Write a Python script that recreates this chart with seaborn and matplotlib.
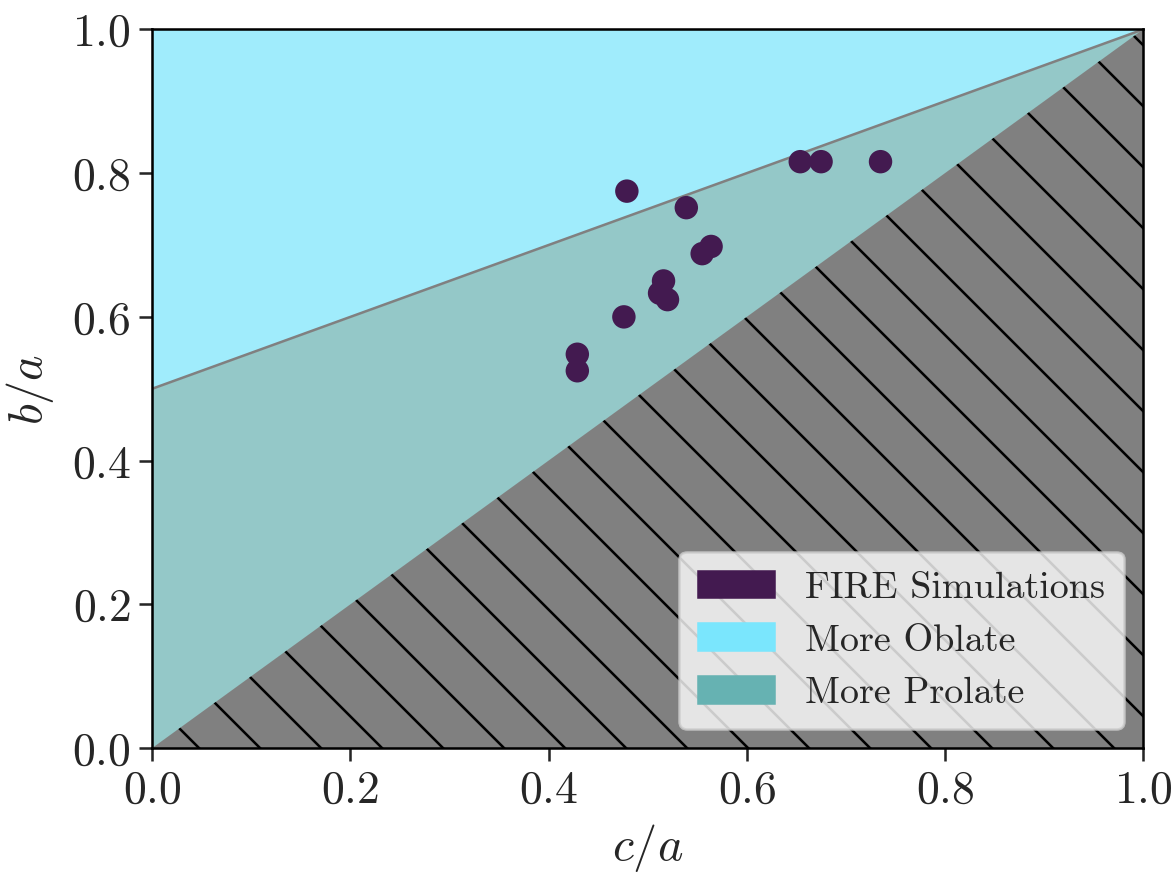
import matplotlib
matplotlib.use("Agg")
import matplotlib.pyplot as plt
import matplotlib.patches as mpatches
import seaborn as sns
import pandas as pd

# Data
c_over_a = [0.429, 0.429, 0.476, 0.479, 0.539, 0.516, 0.512, 0.520, 0.555, 0.564, 0.654, 0.675, 0.735]
b_over_a = [0.548, 0.525, 0.600, 0.775, 0.752, 0.650, 0.633, 0.624, 0.688, 0.698, 0.816, 0.816, 0.816]

edge_x = [0.0, 1.0]
oblate_boundary = [0.5, 1.0]   # b/a = 0.5 + 0.5 c/a
diagonal = [0.0, 1.0]           # b/a = c/a
top = [1.0, 1.0]
bottom = [0.0, 0.0]

legend_labels = ["FIRE Simulations", "More Oblate", "More Prolate"]

sns.set_style("ticks")
plt.rcParams["font.family"] = "serif"
plt.rcParams["font.serif"] = ["cmr10", "DejaVu Serif"]
plt.rcParams["mathtext.fontset"] = "cm"
plt.rcParams["axes.formatter.use_mathtext"] = True
plt.rcParams["hatch.linewidth"] = 1.0

fig = plt.figure(figsize=(6.4, 4.8), dpi=183)
ax = fig.add_axes([0.130, 0.148, 0.846, 0.818])

purple = "#431a50"
cyan_fill = "#a0ecfc"
teal_fill = "#94c8c8"
cyan_leg = "#7ae6fd"
teal_leg = "#66b2b2"

ax.fill_between(edge_x, oblate_boundary, top, color=cyan_fill, linewidth=0, zorder=1)
ax.fill_between(edge_x, diagonal, oblate_boundary, color=teal_fill, linewidth=0, zorder=1)
ax.fill_between(edge_x, bottom, diagonal, facecolor="#808080", edgecolor="black",
                hatch="\\", linewidth=0, zorder=1)
ax.plot(edge_x, oblate_boundary, color="gray", lw=1.0, zorder=2)

df = pd.DataFrame({"c/a": c_over_a, "b/a": b_over_a})
sns.scatterplot(data=df, x="c/a", y="b/a", ax=ax, color=purple, s=85,
                edgecolor="none", zorder=3)

ax.set_xlim(0, 1)
ax.set_ylim(0, 1)
ax.set_xticks([0, 0.2, 0.4, 0.6, 0.8, 1.0])
ax.set_yticks([0, 0.2, 0.4, 0.6, 0.8, 1.0])
ax.tick_params(labelsize=18, length=5, width=1)
ax.set_xlabel("$c/a$", fontsize=19, labelpad=4)
ax.set_ylabel("$b/a$", fontsize=19, labelpad=6)
for sp in ax.spines.values():
    sp.set_color("black")
    sp.set_linewidth(1.0)
    sp.set_zorder(5)

handles = [mpatches.Patch(color=purple, label=legend_labels[0]),
           mpatches.Patch(color=cyan_leg, label=legend_labels[1]),
           mpatches.Patch(color=teal_leg, label=legend_labels[2])]
ax.legend(handles=handles, loc="lower right", fontsize=15, framealpha=0.8,
          handlelength=2.0, handleheight=0.7, borderpad=0.5, labelspacing=0.5)

fig.savefig("out.png", dpi=183)
